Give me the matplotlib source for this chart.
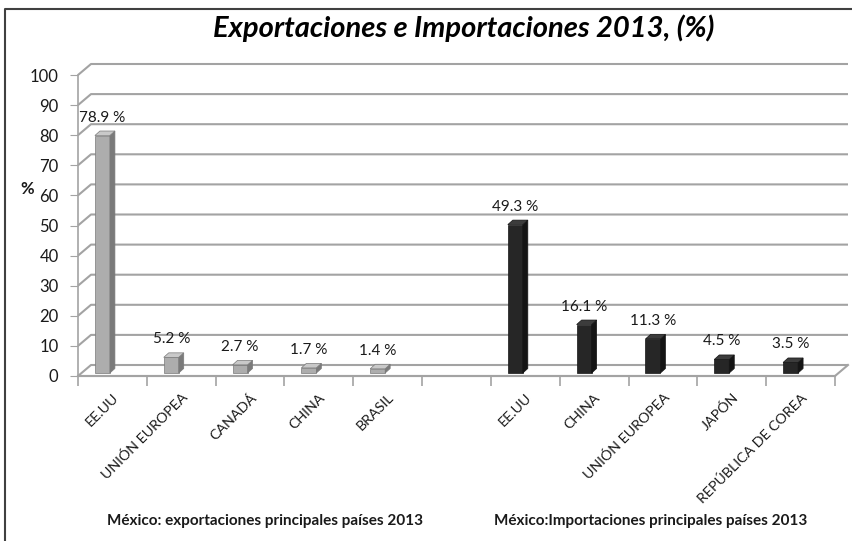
import numpy as np
import matplotlib
matplotlib.use('Agg')
import matplotlib.pyplot as plt
from matplotlib.patches import Polygon
from matplotlib.lines import Line2D

plt.rcParams['font.family'] = ['Lato', 'DejaVu Sans']

# datos ========================================================================
export_paises = ['EE.UU', 'UNIÓN EUROPEA', 'CANADÁ', 'CHINA', 'BRASIL']
export_pct = [78.9, 5.2, 2.7, 1.7, 1.4]
import_paises = ['EE.UU', 'CHINA', 'UNIÓN EUROPEA', 'JAPÓN', 'REPÚBLICA DE COREA']
import_pct = [49.3, 16.1, 11.3, 4.5, 3.5]
y_ticks = list(range(0, 101, 10))
titulo = 'Exportaciones e Importaciones 2013, (%)'
grupo_exp = 'México: exportaciones principales países 2013'
grupo_imp = 'México:Importaciones principales países 2013'
# ==============================================================================

categorias = export_paises + [''] + import_paises
n_cat = len(categorias)

W, H = 852, 541
fig = plt.figure(figsize=(W / 100, H / 100), dpi=100)
fig.patch.set_facecolor('white')

# plano frontal en pixeles
x0_px, x1_px = 78, 835
y0_px, y1_px = 376, 75
ax = fig.add_axes([x0_px / W, 1 - y0_px / H, (x1_px - x0_px) / W, (y0_px - y1_px) / H])
ax.set_xlim(0, n_cat)
ax.set_ylim(0, 100)

ppx = (x1_px - x0_px) / n_cat     # pixeles por categoria
ppy = (y0_px - y1_px) / 100.0     # pixeles por unidad

# profundidad de la pared
dx = 13 / ppx
dy = 11 / ppy

grid_col = '#a3a3a3'
for v in y_ticks:
    ax.plot([0, dx, n_cat + dx], [v, v + dy, v + dy], color=grid_col, lw=1.5,
            clip_on=False, zorder=1, solid_capstyle='butt')
# piso frontal y lateral derecho
ax.plot([0, n_cat, n_cat + dx], [0, 0, dy], color=grid_col, lw=1.5, clip_on=False, zorder=1)

for s in ['top', 'right']:
    ax.spines[s].set_visible(False)
ax.spines['left'].set_color(grid_col)
ax.spines['bottom'].set_color(grid_col)
ax.spines['left'].set_linewidth(1.2)
ax.spines['bottom'].set_linewidth(1.5)

ax.set_yticks(y_ticks)
ax.tick_params(axis='y', length=6, color=grid_col, labelsize=12, pad=8, labelcolor='#1a1a1a')

centros = np.arange(n_cat) + 0.5
ax.set_xticks(np.arange(n_cat + 1), minor=True)
ax.tick_params(axis='x', which='minor', length=7, color=grid_col, width=1.2)
ax.set_xticks(centros, categorias, rotation=45, ha='right', rotation_mode='anchor')
ax.tick_params(axis='x', which='major', length=0, labelsize=10.3, pad=11, labelcolor='#1a1a1a')

ax.set_ylabel('%', rotation=0, fontsize=12, fontweight='bold', color='#1a1a1a')
ax.yaxis.set_label_coords(-0.067, 0.595)

# barras 3D ====================================================================
bar_w = 15 / ppx
bar_shift = -10 / ppx
bar_base = 3 / ppy
sx = 5 / ppx
sy = 4.5 / ppy


def barras(pos, vals, c_front, c_side, c_top):
    xs = np.array(pos) + 0.5 + bar_shift
    ax.bar(xs, vals, width=bar_w, bottom=bar_base, color=c_front, edgecolor=c_side,
           linewidth=0.5, zorder=3, clip_on=False)
    for x, v in zip(xs, vals):
        xl, xr = x - bar_w / 2, x + bar_w / 2
        top = v + bar_base
        ax.add_patch(Polygon([[xr, bar_base], [xr + sx, bar_base + sy], [xr + sx, top + sy], [xr, top]],
                             closed=True, facecolor=c_side, edgecolor=c_side, lw=0.5, zorder=3, clip_on=False))
        ax.add_patch(Polygon([[xl, top], [xl + sx, top + sy], [xr + sx, top + sy], [xr, top]],
                             closed=True, facecolor=c_top, edgecolor=c_side, lw=0.5, zorder=3, clip_on=False))
        ax.text(x, top + 18 / ppy, f'{v} %', ha='center', va='center',
                fontsize=11, color='#1a1a1a', zorder=4)


barras(range(0, 5), export_pct, '#adadad', '#7a7a7a', '#c9c9c9')
barras(range(6, 11), import_pct, '#262626', '#141414', '#3c3c3c')

# textos de figura =============================================================
fig.text(464 / W, 1 - 28 / H, titulo, ha='center', va='center', fontsize=21,
         fontweight='bold', fontstyle='italic', color='black')
fig.text(265 / W, 1 - 521 / H, grupo_exp, ha='center', va='center', fontsize=11,
         fontweight='bold', color='#1a1a1a')
fig.text(651 / W, 1 - 521 / H, grupo_imp, ha='center', va='center', fontsize=11,
         fontweight='bold', color='#1a1a1a')

# marco
fig.add_artist(Line2D([5 / W, 5 / W, 1], [0, 1 - 9 / H, 1 - 9 / H], color='#404040',
                      lw=1.5, transform=fig.transFigure))

fig.savefig('out.png', dpi=100)
